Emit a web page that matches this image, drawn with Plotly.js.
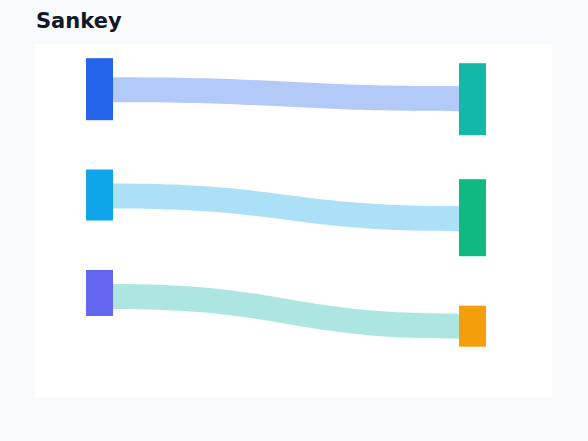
<!DOCTYPE html>
<html>
<head>
<meta charset="utf-8">
<script src="https://cdn.plot.ly/plotly-3.0.1.min.js"></script>
<style>
  html, body { margin: 0; padding: 0; background: #f8fafc; }
  #plot { width: 588px; height: 441px; }
</style>
</head>
<body>
<div id="plot"></div>
<script>
// nodes: three sources on the left, three targets on the right
var nodeNames = ['Source 1', 'Source 2', 'Source 3', 'Target 1', 'Target 2', 'Target 3'];
var nodeTotals = [62, 51, 46, 72, 77, 41];
var nodeColors = ['#2563eb', '#0ea5e9', '#6366f1', '#14b8a6', '#10b981', '#f59e0b'];

// links
var linkSources = [0, 1, 2];
var linkTargets = [3, 4, 5];
var linkValues = [25, 25, 25];
var linkColors = ['rgba(37,99,235,0.35)', 'rgba(14,165,233,0.35)', 'rgba(20,184,166,0.35)'];

// part of each node that sits above its drawn link
var flowOffsets = [19, 14, 14, 23, 27, 8];

(function (document, window) {
    document.addEventListener("DOMContentLoaded", function () {
        var leftX = 0.1248, rightX = 0.8462;
        var nodeX = [leftX, leftX, leftX, rightX, rightX, rightX];
        var nodeY = [0.128, 0.4278, 0.7054, 0.1564, 0.4921, 0.7994];
        var clear = 'rgba(0,0,0,0)';

        var labels = nodeNames.map(function () { return ''; });
        var colors = nodeColors.slice();

        // filler nodes, not drawn: they make node heights differ from the link widths
        var topSink = 6, bottomSink = 7, topSource = 8, bottomSource = 9;
        labels.push('', '', '', '');
        colors.push(clear, clear, clear, clear);
        nodeX.push(rightX, rightX, leftX, leftX);
        nodeY.push(0.01, 0.99, 0.01, 0.99);

        var src = [], tgt = [], val = [], col = [];
        function add(s, t, v, c) {
            if (v <= 0) return;
            src.push(s); tgt.push(t); val.push(v); col.push(c);
        }

        for (var k = 0; k < linkValues.length; k++) {
            var s = linkSources[k], t = linkTargets[k], v = linkValues[k];
            add(s, topSink, flowOffsets[s], clear);
            add(s, t, v, linkColors[k]);
            add(s, bottomSink, nodeTotals[s] - flowOffsets[s] - v, clear);
            add(topSource, t, flowOffsets[t], clear);
            add(bottomSource, t, nodeTotals[t] - flowOffsets[t] - v, clear);
        }

        var data = [{
            type: 'sankey',
            arrangement: 'fixed',
            hoverinfo: 'none',
            domain: { x: [0, 1], y: [0, 1] },
            node: {
                label: labels,
                color: colors,
                x: nodeX,
                y: nodeY,
                thickness: 27,
                pad: 19.75,
                line: { width: 0 }
            },
            link: {
                source: src,
                target: tgt,
                value: val,
                color: col,
                line: { width: 0 }
            }
        }];

        var layout = {
            width: 588,
            height: 441,
            paper_bgcolor: '#f8fafc',
            margin: { l: 35, r: 36, t: 44, b: 44 },
            title: {
                text: 'Sankey',
                font: { family: 'DejaVu Sans', size: 21, color: '#111827', weight: 'bold' },
                xref: 'container',
                yref: 'container',
                x: 36 / 588,
                xanchor: 'left',
                y: 1 - 20.5 / 441,
                yanchor: 'middle'
            },
            shapes: [{
                type: 'rect',
                xref: 'paper', yref: 'paper',
                x0: 0, x1: 1, y0: 0, y1: 1,
                fillcolor: '#ffffff',
                line: { width: 0 },
                layer: 'below'
            }]
        };

        Plotly.newPlot('plot', data, layout, { displayModeBar: false, staticPlot: true });
    });
})(document, window);
</script>
</body>
</html>
